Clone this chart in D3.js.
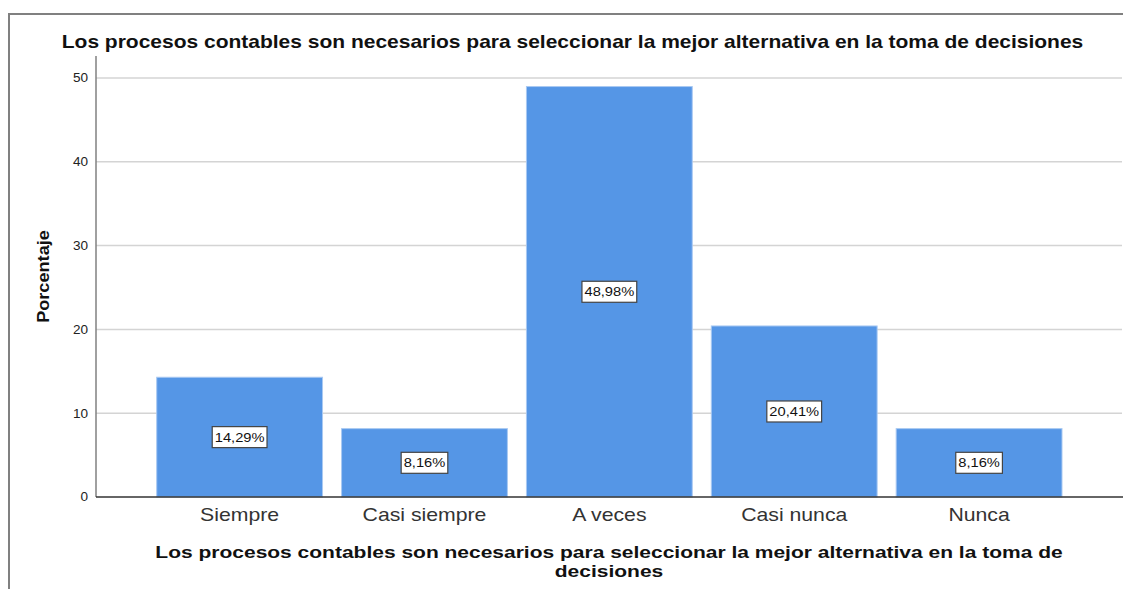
<!DOCTYPE html>
<html>
<head>
<meta charset="utf-8">
<script src="https://cdn.jsdelivr.net/npm/d3@7"></script>
<style>
  html, body { margin: 0; padding: 0; background: #fff; }
  svg { display: block; font-family: "Liberation Sans", Arial, sans-serif; }
</style>
</head>
<body>
<div id="chart"></div>
<script>
// --- Data ---
const categories = ['Siempre', 'Casi siempre', 'A veces', 'Casi nunca', 'Nunca'];
const percentages = [14.29, 8.16, 48.98, 20.41, 8.16];
const yTicks = [0, 10, 20, 30, 40, 50];

const chartTitle = 'Los procesos contables son necesarios para seleccionar la mejor alternativa en la toma de decisiones';
const xTitleLines = ['Los procesos contables son necesarios para seleccionar la mejor alternativa en la toma de', 'decisiones'];
const yTitle = 'Porcentaje';

// --- Setup ---
const width = 1123;
const height = 589;
const FONT = '"Liberation Sans", Arial, sans-serif';

const svg = d3.select('#chart')
  .append('svg')
  .attr('width', width)
  .attr('height', height);

// outer frame (SPSS style)
svg.append('path')
  .attr('d', `M9,${height + 5} V14 H${width + 5}`)
  .attr('fill', 'none')
  .attr('stroke', '#808080')
  .attr('stroke-width', 2);

const plot = { left: 96, right: 1122, top: 56, bottom: 497 };

const y = d3.scaleLinear()
  .domain([0, 50])
  .range([plot.bottom, 78]);

const x = d3.scaleBand()
  .domain(categories)
  .range([156.7, 1062])
  .paddingInner(0.103)
  .paddingOuter(0);

// gridlines
svg.append('g')
  .selectAll('line')
  .data(yTicks.filter(t => t > 0))
  .join('line')
  .attr('x1', plot.left)
  .attr('x2', plot.right)
  .attr('y1', d => y(d))
  .attr('y2', d => y(d))
  .attr('stroke', '#d4d4d4')
  .attr('stroke-width', 1.5);

// bars
svg.append('g')
  .selectAll('rect')
  .data(percentages)
  .join('rect')
  .attr('x', (d, i) => x(categories[i]))
  .attr('y', d => y(d))
  .attr('width', x.bandwidth())
  .attr('height', d => y(0) - y(d))
  .attr('fill', '#5596e6')
  .attr('stroke', '#a9c9f2')
  .attr('stroke-width', 1);

// y axis
const yAxis = svg.append('g')
  .attr('transform', `translate(${plot.left},0)`)
  .call(d3.axisLeft(y).tickValues(yTicks).tickSize(0).tickPadding(7));
yAxis.select('.domain').remove();
yAxis.selectAll('text')
  .attr('font-size', 12)
  .attr('fill', '#222')
  .attr('font-family', FONT)
  .attr('transform', 'scale(1.13,1)');

svg.append('line')
  .attr('x1', plot.left).attr('x2', plot.left)
  .attr('y1', plot.top).attr('y2', plot.bottom)
  .attr('stroke', '#808080')
  .attr('stroke-width', 1.5);

// x axis
const xAxis = svg.append('g')
  .attr('transform', `translate(0,${plot.bottom})`)
  .call(d3.axisBottom(x).tickSize(0).tickPadding(11));
xAxis.select('.domain').remove();
xAxis.selectAll('text')
  .attr('font-size', 18)
  .attr('fill', '#333')
  .attr('font-family', FONT)
  .attr('transform', 'scale(1.18,1)');

svg.append('line')
  .attr('x1', plot.left).attr('x2', plot.right + 1)
  .attr('y1', plot.bottom).attr('y2', plot.bottom)
  .attr('stroke', '#333')
  .attr('stroke-width', 1.5);

// value labels
const labelStretch = 1.13;
const labels = svg.append('g')
  .selectAll('g')
  .data(percentages)
  .join('g')
  .attr('transform', (d, i) => `translate(${x(categories[i]) + x.bandwidth() / 2},${(y(d) + y(0)) / 2})`);

labels.append('text')
  .attr('text-anchor', 'middle')
  .attr('dy', '0.36em')
  .attr('font-size', 13)
  .attr('fill', '#111')
  .attr('transform', `scale(${labelStretch},1)`)
  .text(d => d.toFixed(2).replace('.', ',') + '%')
  .each(function() {
    const bb = this.getBBox();
    const w = bb.width * labelStretch + 5;
    d3.select(this.parentNode).insert('rect', 'text')
      .attr('x', -w / 2)
      .attr('y', -10.5)
      .attr('width', w)
      .attr('height', 21)
      .attr('fill', '#fff')
      .attr('stroke', '#444')
      .attr('stroke-width', 1.2);
  });

// titles
svg.append('text')
  .attr('transform', 'translate(572.5,48) scale(1.2,1)')
  .attr('text-anchor', 'middle')
  .attr('font-size', 17.5)
  .attr('font-weight', 'bold')
  .attr('fill', '#111')
  .text(chartTitle);

svg.append('g')
  .selectAll('text')
  .data(xTitleLines)
  .join('text')
  .attr('transform', (d, i) => `translate(${(plot.left + plot.right) / 2},${558 + i * 19}) scale(1.25,1)`)
  .attr('text-anchor', 'middle')
  .attr('font-size', 16.8)
  .attr('font-weight', 'bold')
  .attr('fill', '#111')
  .text(d => d);

svg.append('text')
  .attr('transform', `translate(49,${(plot.top + plot.bottom) / 2}) rotate(-90) scale(1.1,1)`)
  .attr('text-anchor', 'middle')
  .attr('font-size', 16.5)
  .attr('font-weight', 'bold')
  .attr('fill', '#111')
  .text(yTitle);
</script>
</body>
</html>
